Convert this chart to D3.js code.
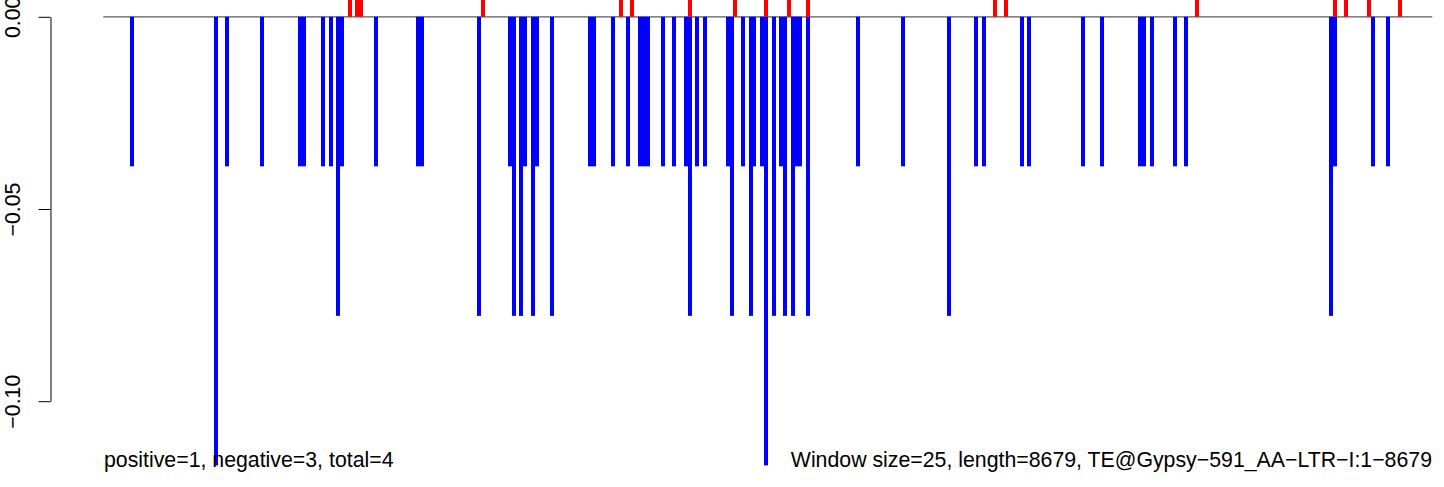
<!DOCTYPE html>
<html>
<head>
<meta charset="utf-8">
<script src="https://cdn.jsdelivr.net/npm/d3@7"></script>
<style>
  html, body { margin: 0; padding: 0; background: #fff; }
  svg { display: block; }
  text { font-family: "Liberation Sans", Arial, Helvetica, sans-serif; }
</style>
</head>
<body>
<svg id="chart" width="1444" height="487"></svg>
<script>
// Window indices (window size 25 bp) with negative-strand values (blue)
const negWindows = [8, 30, 33, 42, 52, 53, 58, 60, 62, 63, 72, 83, 84, 99, 107, 108, 110, 111, 113, 114,
  118, 128, 129, 134, 138, 141, 142, 143, 147, 150, 153, 154, 156, 158, 164, 165, 168, 170, 171, 173,
  174, 176, 178, 179, 181, 182, 183, 185, 198, 210, 222, 229, 231, 241, 243, 257, 262, 272, 273, 275,
  281, 284, 322, 323, 333, 337];
const negValues = [-0.0389, -0.1167, -0.0389, -0.0389, -0.0389, -0.0389, -0.0389, -0.0389, -0.0778, -0.0389,
  -0.0389, -0.0389, -0.0389, -0.0778, -0.0389, -0.0778, -0.0778, -0.0389, -0.0778, -0.0389,
  -0.0778, -0.0389, -0.0389, -0.0389, -0.0389, -0.0389, -0.0389, -0.0389, -0.0389, -0.0389, -0.0389, -0.0778, -0.0389, -0.0389, -0.0389, -0.0778, -0.0389, -0.0778, -0.0389, -0.0389,
  -0.1167, -0.0778, -0.0389, -0.0778, -0.0778, -0.0389, -0.0389, -0.0778, -0.0389, -0.0389, -0.0778, -0.0389, -0.0389, -0.0389, -0.0389, -0.0389, -0.0389, -0.0389, -0.0389, -0.0389,
  -0.0389, -0.0389, -0.0778, -0.0389, -0.0389, -0.0389];
// Window indices with positive-strand values (red)
const posWindows = [65, 67, 68, 100, 136, 139, 154, 166, 174, 180, 185, 234, 237, 287, 323, 326, 332, 340];
const posValues = [0.0389, 0.0389, 0.0389, 0.0389, 0.0389, 0.0389, 0.0389, 0.0389, 0.0389, 0.0389,
  0.0389, 0.0389, 0.0389, 0.0389, 0.0389, 0.0389, 0.0389, 0.0389];
const yTicks = [0, -0.05, -0.10];
const yTickLabels = ["0.00", "\u22120.05", "\u22120.10"];
const nWindows = 348;
const leftNote = "positive=1, negative=3, total=4";
const rightNote = "Window size=25, length=8679, TE@Gypsy\u2212591_AA\u2212LTR\u2212I:1\u22128679";

const svg = d3.select("#chart");
const plotL = 103.3, plotR = 1432.3;
const x = d3.scaleLinear().domain([0.5, nWindows + 0.5]).range([plotL, plotR]);
const y = d3.scaleLinear().domain([0, -0.1]).range([16.8, 401.2]);
const barW = 4;
const fs = 21.3;

// zero line
svg.append("line")
  .attr("x1", plotL).attr("x2", plotR)
  .attr("y1", y(0)).attr("y2", y(0))
  .attr("stroke", "#5a5a5a").attr("stroke-width", 1.2);

const neg = negWindows.map((w, i) => ({ w, v: negValues[i] }));
const pos = posWindows.map((w, i) => ({ w, v: posValues[i] }));

svg.append("g").selectAll("rect").data(neg).join("rect")
  .attr("x", d => Math.round(x(d.w)) - barW / 2)
  .attr("width", barW)
  .attr("y", y(0))
  .attr("height", d => y(d.v) - y(0))
  .attr("fill", "#0000ff");

svg.append("g").selectAll("rect").data(pos).join("rect")
  .attr("x", d => Math.round(x(d.w)) - barW / 2)
  .attr("width", barW)
  .attr("y", d => y(d.v))
  .attr("height", d => y(0) - y(d.v))
  .attr("fill", "#ff0000");

// y axis
const axis = d3.axisLeft(y)
  .tickValues(yTicks)
  .tickSize(12)
  .tickSizeOuter(0)
  .tickFormat((d, i) => yTickLabels[i]);
const ag = svg.append("g").attr("transform", "translate(50.5,0)").call(axis);
ag.select(".domain").attr("stroke", "#000").attr("stroke-width", 1);
ag.selectAll(".tick line").attr("stroke", "#000").attr("stroke-width", 1);
ag.selectAll(".tick text")
  .attr("x", 0).attr("dy", null)
  .attr("transform", "translate(-31,0) rotate(-90)")
  .attr("text-anchor", "middle")
  .attr("fill", "#000")
  .style("font-size", fs + "px")
  .style("font-family", "'Liberation Sans', Arial, sans-serif");

// notes
svg.append("text")
  .attr("x", 104).attr("y", 467)
  .attr("font-size", fs).attr("fill", "#000")
  .text(leftNote);
svg.append("text")
  .attr("x", 1432).attr("y", 467)
  .attr("text-anchor", "end")
  .attr("font-size", fs).attr("fill", "#000")
  .text(rightNote);
</script>
</body>
</html>
